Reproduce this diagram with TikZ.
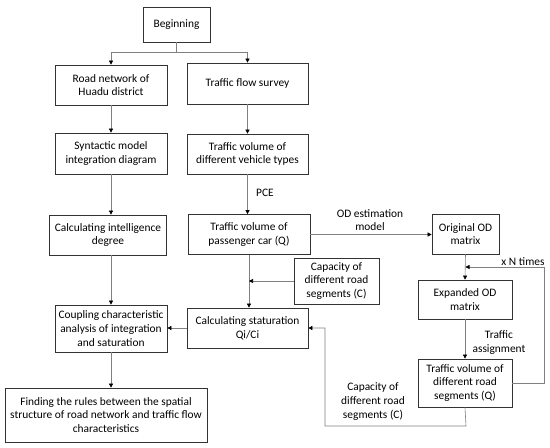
\documentclass[tikz,border=0pt]{standalone}
\usepackage{fontspec}
\setmainfont{Carlito}
\usetikzlibrary{arrows.meta}
\begin{document}
\begin{tikzpicture}[x=1pt,y=-1pt,
  box/.style={draw=black!80,line width=0.7pt,fill=white,align=center,inner sep=1pt,
    font=\fontsize{11.4}{13.8}\selectfont,minimum width=#1},
  box/.default=100pt,
  lbl/.style={align=center,inner sep=0pt,font=\fontsize{11.4}{13.8}\selectfont},
  conn/.style={draw=black!50,line width=0.6pt},
  arr/.style={conn,-{Triangle[length=4pt,width=4pt,color=black]}}]
\useasboundingbox (0,0) rectangle (550,448);
% nodes
\node[box=67pt,minimum height=35pt] (begin) at (176.5,24.5) {Beginning};
\node[box=112pt,minimum height=40pt] (road) at (111,85) {Road network of\\Huadu district};
\node[box=121pt,minimum height=41pt] (survey) at (247.5,83.5) {Traffic flow survey};
\node[box=112pt,minimum height=41pt] (syn) at (111,153.5) {Syntactic model\\integration diagram};
\node[box=121pt,minimum height=40pt] (veh) at (247.5,154) {Traffic volume of\\different vehicle types};
\node[box=117pt,minimum height=40pt] (intel) at (108,235) {Calculating intelligence\\degree};
\node[box=122pt,minimum height=40pt] (pass) at (249,234.5) {Traffic volume of\\passenger car (Q)};
\node[box=67pt,minimum height=40pt] (od) at (465.5,234) {Original OD\\matrix};
\node[box=85pt,minimum height=46pt] (cap) at (336.5,281) {Capacity of\\different road\\segments (C)};
\node[box=94pt,minimum height=39pt] (exp) at (465,299.5) {Expanded OD\\matrix};
\node[box=121pt,minimum height=40pt] (stat) at (247.5,328) {Calculating staturation\\Qi/Ci};
\node[box=112pt,minimum height=47pt] (coup) at (111,328.5) {Coupling characteristic\\analysis of integration\\and saturation};
\node[box=94pt,minimum height=48pt] (q) at (465,383) {Traffic volume of\\different road\\segments (Q)};
\node[box=202pt,minimum height=54pt] (find) at (106,415) {Finding the rules between the spatial\\structure of road network and traffic flow\\characteristics};
% labels
\node[lbl] (pce) at (265,193) {PCE};
\node[lbl] (odest) at (370,220) {OD estimation\\model};
\node[lbl] (ntimes) at (523,262) {x N times};
\node[lbl] (assign) at (499,342.5) {Traffic\\assignment};
\node[lbl] (capl) at (373,401.5) {Capacity of\\different road\\segments (C)};
% helper coordinates
\coordinate (split) at (176.5,52);
\coordinate (loopr) at (544,383);
\coordinate (loopt) at (544,267);
\coordinate (retb) at (466,426);
\coordinate (retl) at (325,426);
% connectors
\draw[conn] (begin.south) -- (split);
\draw[arr] (split) -| (road.north);
\draw[arr] (split) -| (survey.north);
\draw[arr] (road.south) -- (syn.north);
\draw[arr] (survey.south) -- (veh.north);
\draw[arr] (syn.south) -- (syn.south |- intel.north);
\draw[arr] (veh.south) -- (veh.south |- pass.north);
\draw[arr] (intel.south -| syn.south) -- (syn.south |- coup.north);
\draw[arr] (pass.south) -- (pass.south |- stat.north);
\draw[arr] (cap.west) -- (cap.west -| pass.south);
\draw[arr] (pass.east) -- (pass.east -| od.west);
\draw[arr] (od.south) -- (exp.north);
\draw[arr] (exp.south) -- (q.north);
\draw[arr] (q.east) -- (loopr) -- (loopt) -- (loopt -| od.south);
\draw[arr] (stat.west) -- (stat.west -| coup.east);
\draw[arr] (q.south) -- (retb) -- (retl) -- (retl |- stat.east) -- (stat.east);
\draw[arr] (coup.south) -- (coup.south |- find.north);
\end{tikzpicture}
\end{document}
